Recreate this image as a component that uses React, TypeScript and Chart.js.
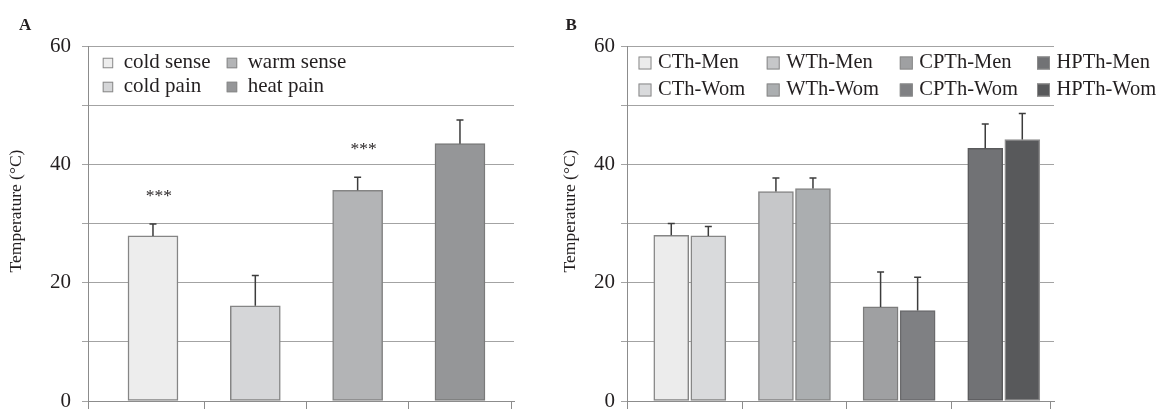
import React, { useEffect, useRef } from "react";
import { Chart, registerables } from "chart.js";

Chart.register(...registerables);

const SERIF = "'Liberation Serif', 'Times New Roman', Times, serif";
const TEXT = "#231f20";
const GRID = "#a3a3a3";
const AXIS = "#8c8c8c";
const ERR = "#3c3c3c";

// ---------------- data ----------------
const yTickLabels = ["0", "20", "40", "60"];
const yTitle = "Temperature (°C)";

// Panel A
const categoriesA = ["cold sense", "cold pain", "warm sense", "heat pain"];
const meansA = [27.9, 16.1, 35.6, 43.5];
const errorsA = [2.0, 5.1, 2.2, 4.0];
const starsA = ["***", "", "***", ""];
const legendOrderA = ["cold sense", "warm sense", "cold pain", "heat pain"];
const fillsA = ["#ededed", "#d5d6d8", "#b3b4b6", "#959698"];
const bordersA = ["#858585", "#858585", "#858585", "#7a7a7a"];

// Panel B
const groupsB = ["CTh", "WTh", "CPTh", "HPTh"];
const meansMen = [28.0, 35.4, 15.9, 42.7];
const errorsMen = [2.0, 2.3, 5.9, 4.1];
const meansWom = [27.9, 35.9, 15.3, 44.2];
const errorsWom = [1.6, 1.8, 5.6, 4.4];
const fillsMen = ["#ececec", "#c6c7c9", "#9fa0a2", "#717275"];
const fillsWom = ["#d9dadc", "#abaeb0", "#7f8083", "#58595b"];
const bordersMen = ["#858585", "#858585", "#7c7c7c", "#5a5a5c"];
const bordersWom = ["#858585", "#858585", "#6a6a6c", "#8e8e8e"];
const legendOrderB = [
  "CTh-Men", "WTh-Men", "CPTh-Men", "HPTh-Men",
  "CTh-Wom", "WTh-Wom", "CPTh-Wom", "HPTh-Wom",
];

// ---------------- layout ----------------
type Bar = { label: string; x: number; y: number; err: number; fill: string; border: string; star: string };
type Panel = {
  letter: string;
  letterX: number;
  left: number;
  width: number;
  axisWidth: number;
  padRight: number;
  xMin: number;
  xMax: number;
  xTicks: number[];
  barThickness: number;
  tickPadding: number;
  titleX: number;
  titleY: number;
  legend: { cols: number[]; rows: number[]; box: number; gap: number; font: number; order: string[] };
  bars: Bar[];
};

const OFF_B = 0.177;

const panelA: Panel = {
  letter: "A",
  letterX: 19,
  left: 0,
  width: 560,
  axisWidth: 88,
  padRight: 46,
  xMin: -0.635,
  xMax: 3.528,
  xTicks: [-0.635, 0.5, 1.5, 2.5, 3.5],
  barThickness: 50,
  tickPadding: 11,
  titleX: 16.5,
  titleY: 211,
  legend: { cols: [102.7, 226.7], rows: [63, 87], box: 10.5, gap: 10.5, font: 21, order: legendOrderA },
  bars: categoriesA.map((c, i) => ({
    label: c,
    x: i,
    y: meansA[i],
    err: errorsA[i],
    fill: fillsA[i],
    border: bordersA[i],
    star: starsA[i],
  })),
};

const barsB: Bar[] = [];
groupsB.forEach((g, i) => {
  barsB.push({ label: g + "-Men", x: i - OFF_B, y: meansMen[i], err: errorsMen[i], fill: fillsMen[i], border: bordersMen[i], star: "" });
  barsB.push({ label: g + "-Wom", x: i + OFF_B, y: meansWom[i], err: errorsWom[i], fill: fillsWom[i], border: bordersWom[i], star: "" });
});

const panelB: Panel = {
  letter: "B",
  letterX: 565.5,
  left: 560,
  width: 600,
  axisWidth: 67,
  padRight: 106,
  xMin: -0.6,
  xMax: 3.48,
  xTicks: [-0.6, 0.5, 1.5, 2.5, 3.45],
  barThickness: 35,
  tickPadding: 6,
  titleX: 570,
  titleY: 211,
  legend: { cols: [638.5, 766.7, 899.8, 1037], rows: [63, 90], box: 13, gap: 6.5, font: 20.5, order: legendOrderB },
  bars: barsB,
};

function buildChart(canvas: HTMLCanvasElement, p: Panel) {
  const datasets: any[] = p.bars.map((b) => ({
    label: b.label,
    data: [{ x: b.x, y: b.y }],
    errors: [b.err],
    stars: [b.star],
    backgroundColor: b.fill,
    borderColor: b.border,
    borderWidth: 1.5,
    borderSkipped: false,
    barThickness: p.barThickness,
    grouped: false,
  }));

  const extras = {
    id: "extras",
    afterDatasetsDraw(chart: any) {
      const ctx = chart.ctx as CanvasRenderingContext2D;
      const ys = chart.scales.y;
      ctx.save();
      chart.data.datasets.forEach((ds: any, di: number) => {
        const meta = chart.getDatasetMeta(di);
        meta.data.forEach((el: any, j: number) => {
          const v = ds.data[j].y;
          const e = ds.errors[j];
          const top = ys.getPixelForValue(v + e);
          ctx.strokeStyle = ERR;
          ctx.lineWidth = 1.5;
          ctx.beginPath();
          ctx.moveTo(el.x, el.y);
          ctx.lineTo(el.x, top);
          ctx.moveTo(el.x - 3.5, top);
          ctx.lineTo(el.x + 3.5, top);
          ctx.stroke();
          const s = ds.stars[j];
          if (s) {
            ctx.font = `17.5px ${SERIF}`;
            ctx.fillStyle = TEXT;
            ctx.textAlign = "center";
            ctx.textBaseline = "middle";
            ctx.fillText(s, el.x + 6, top - 28);
          }
        });
      });

      // legend
      const L = p.legend;
      const ncol = L.cols.length;
      ctx.font = `${L.font}px ${SERIF}`;
      ctx.textAlign = "left";
      ctx.textBaseline = "alphabetic";
      L.order.forEach((label, k) => {
        const ds = chart.data.datasets.find((d: any) => d.label === label);
        if (!ds) return;
        const col = k % ncol;
        const row = Math.floor(k / ncol);
        const bx = L.cols[col] - p.left;
        const cy = L.rows[row];
        ctx.fillStyle = ds.backgroundColor;
        ctx.fillRect(bx, cy - L.box / 2, L.box, L.box);
        ctx.strokeStyle = "#8a8a8a";
        ctx.lineWidth = 1;
        ctx.strokeRect(bx + 0.5, cy - L.box / 2 + 0.5, L.box - 1, L.box - 1);
        ctx.fillStyle = TEXT;
        ctx.fillText(label, bx + L.box + L.gap, cy + 5.3);
      });

      // y-axis title
      ctx.save();
      ctx.translate(p.titleX - p.left, p.titleY);
      ctx.rotate(-Math.PI / 2);
      ctx.font = `17.5px ${SERIF}`;
      ctx.fillStyle = TEXT;
      ctx.textAlign = "center";
      ctx.textBaseline = "middle";
      ctx.fillText(yTitle, 0, 0);
      ctx.restore();

      // panel letter
      ctx.font = `bold 17px ${SERIF}`;
      ctx.fillStyle = TEXT;
      ctx.textAlign = "left";
      ctx.textBaseline = "alphabetic";
      ctx.fillText(p.letter, p.letterX - p.left, 30);
      ctx.restore();
    },
  };

  return new Chart(canvas, {
    type: "bar",
    data: { datasets },
    options: {
      animation: false,
      responsive: false,
      maintainAspectRatio: false,
      layout: { padding: { left: 0, top: 46, right: p.padRight, bottom: 0 } },
      plugins: { legend: { display: false }, tooltip: { enabled: false } },
      scales: {
        x: {
          type: "linear",
          offset: false,
          min: p.xMin,
          max: p.xMax,
          afterBuildTicks: (s: any) => {
            s.ticks = p.xTicks.map((v) => ({ value: v }));
          },
          afterFit: (s: any) => {
            s.height = 8;
            s.paddingLeft = 0;
            s.paddingRight = 0;
          },
          ticks: { display: false },
          grid: { offset: false, drawOnChartArea: false, drawTicks: true, tickLength: 8, color: AXIS, lineWidth: 1 },
          border: { display: true, color: AXIS, width: 1 },
        },
        y: {
          type: "linear",
          min: 0,
          max: 60,
          afterFit: (s: any) => {
            s.width = p.axisWidth;
            s.paddingTop = 0;
            s.paddingBottom = 0;
          },
          ticks: {
            stepSize: 10,
            padding: p.tickPadding,
            color: TEXT,
            font: { family: SERIF, size: 21 },
            callback: (v: any) => (yTickLabels.includes(String(v)) ? String(v) : ""),
          },
          grid: { color: GRID, lineWidth: 1, drawTicks: true, tickLength: 6 },
          border: { display: true, color: AXIS, width: 1 },
          title: { display: false },
        },
      },
    } as any,
    plugins: [extras],
  });
}

function PanelChart({ panel }: { panel: Panel }) {
  const ref = useRef<HTMLCanvasElement | null>(null);
  useEffect(() => {
    if (!ref.current) return;
    const chart = buildChart(ref.current, panel);
    return () => chart.destroy();
  }, [panel]);
  return (
    <canvas
      ref={ref}
      width={panel.width}
      height={409}
      style={{ position: "absolute", left: panel.left, top: 0, width: panel.width, height: 409, display: "block" }}
    />
  );
}

export default function App() {
  return (
    <div style={{ position: "absolute", left: 0, top: 0, width: 1160, height: 409, background: "#ffffff", overflow: "hidden" }}>
      <PanelChart panel={panelA} />
      <PanelChart panel={panelB} />
    </div>
  );
}
